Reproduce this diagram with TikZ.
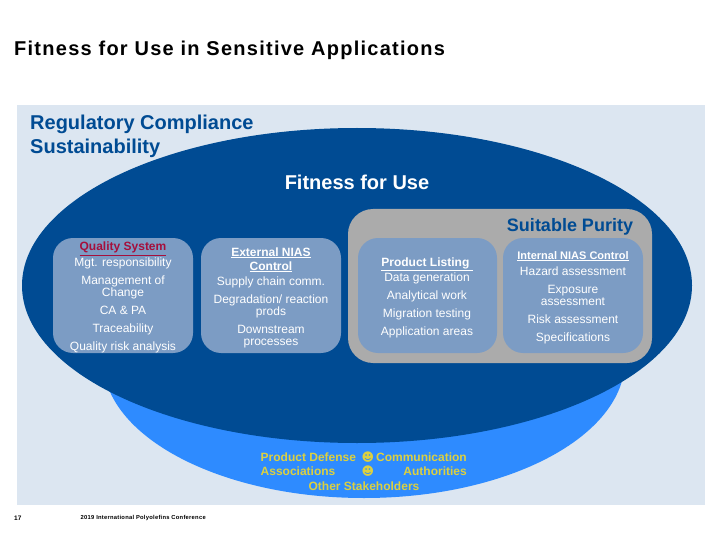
\documentclass[tikz,border=0pt]{standalone}
\usepackage{fontspec}
\setmainfont{Liberation Sans}
\newfontfamily\symfont{DejaVu Sans}
\definecolor{panelc}{HTML}{DCE6F1}
\definecolor{darkc}{HTML}{004B93}
\definecolor{lightc}{HTML}{2E8BFF}
\definecolor{grayc}{HTML}{ABABAB}
\definecolor{boxc}{HTML}{7C9CC4}
\definecolor{yelc}{HTML}{DCD040}
\definecolor{redc}{HTML}{A50F3C}
\tikzset{
 x=1pt,y=-1pt,
 boxbg/.style={fill=boxc,rounded corners=20pt},
 ln/.style={text=white,font=\fontsize{12}{12}\selectfont,inner sep=0pt,anchor=center,text height=10.6pt,text depth=2.6pt},
 hd/.style={ln,font=\fontsize{12}{12}\selectfont\bfseries},
 big/.style={inner sep=0pt,font=\fontsize{20}{24}\selectfont,text=darkc,text height=18.5pt,text depth=4.2pt},
 yl/.style={inner sep=0pt,text=yelc,font=\fontsize{12}{12}\selectfont\bfseries,text height=10.6pt,text depth=2.6pt},
}
\newcommand{\ul}[1]{\underline{#1}}
\begin{document}
\begin{tikzpicture}
\useasboundingbox (0,0) rectangle (720,540);
\fill[white] (0,0) rectangle (720,540);
\fill[panelc] (17,105) rectangle (705,505);
\fill[lightc] (364,360) ellipse [x radius=261,y radius=138];
\fill[darkc] (357,285.5) ellipse [x radius=335,y radius=157.5];
\fill[grayc,rounded corners=25pt] (348,209) rectangle (652,363);
\fill[boxbg] (53,238) rectangle (193,353);
\fill[boxbg] (201,238) rectangle (341,353);
\fill[boxbg] (358,238) rectangle (497,353);
\fill[boxbg] (503,238) rectangle (643,353);

\node[anchor=west,inner sep=0pt,font=\fontsize{20}{24}\selectfont\bfseries\addfontfeature{LetterSpace=6.3},text height=18.5pt,text depth=4.2pt] (title) at (14,48) {Fitness for Use in Sensitive Applications};
\node[anchor=west,big] (reg1) at (30,122) {\textbf{Regulatory Compliance}};
\node[anchor=west,big] (reg2) at (30,146) {\textbf{Sustainability}};
\node[inner sep=0pt,text=white,font=\fontsize{20}{22}\selectfont\bfseries,text height=18.5pt,text depth=4.2pt] (ffu) at (357,182) {Fitness for Use};
\node[inner sep=0pt,text=darkc,font=\fontsize{18}{20}\selectfont\bfseries,text height=17pt,text depth=3.8pt] (pur) at (570,225) {Suitable Purity};

\node[hd,text=redc] (a0) at (123,247) {\ul{Quality System}};
\node[ln] (a1) at (123,262) {Mgt. responsibility};
\node[ln] (a2) at (123,280) {Management of};
\node[ln] (a3) at (123,292) {Change};
\node[ln] (a4) at (123,310) {CA \& PA};
\node[ln] (a5) at (123,328) {Traceability};
\node[ln] (a6) at (123,346) {Quality risk analysis};

\node[hd] (b0) at (271,252) {\ul{External NIAS}};
\node[hd] (b1) at (271,266) {\ul{Control}};
\node[ln] (b2) at (271,281) {Supply chain comm.};
\node[ln] (b3) at (271,299) {Degradation/ reaction};
\node[ln] (b4) at (271,311) {prods};
\node[ln] (b5) at (271,329) {Downstream};
\node[ln] (b6) at (271,341) {processes};

\node[hd] (c0) at (427,262) {\ul{Product Listing }};
\node[ln] (c1) at (427,277) {Data generation};
\node[ln] (c2) at (427,295) {Analytical work};
\node[ln] (c3) at (427,313) {Migration testing};
\node[ln] (c4) at (427,331) {Application areas};

\node[hd,font=\fontsize{11}{11}\selectfont\bfseries] (d0) at (573,255) {\ul{Internal NIAS Control}};
\node[ln] (d1) at (573,271) {Hazard assessment};
\node[ln] (d2) at (573,289) {Exposure};
\node[ln] (d3) at (573,301) {assessment};
\node[ln] (d4) at (573,319) {Risk assessment};
\node[ln] (d5) at (573,337) {Specifications};

\node[yl,anchor=west] (e0) at (260.5,457) {Product Defense};
\node[yl,font=\fontsize{12}{12}\selectfont\symfont] (e1) at (368,457) {☻};
\node[yl,anchor=east] (e2) at (467,457) {Communication};
\node[yl,anchor=west] (f0) at (260.5,471) {Associations};
\node[yl,font=\fontsize{12}{12}\selectfont\symfont] (f1) at (368,471) {☻};
\node[yl,anchor=east] (f2) at (467,471) {Authorities};
\node[yl] (g0) at (364,486) {Other Stakeholders};

\node[inner sep=0pt,anchor=west,font=\fontsize{6.5}{7}\selectfont\bfseries] (pg) at (14,518) {17};
\node[inner sep=0pt,anchor=west,font=\fontsize{5.8}{7}\selectfont\bfseries\addfontfeature{LetterSpace=4.5}] (ft) at (80.5,518) {2019 International Polyolefins Conference};
\end{tikzpicture}
\end{document}
